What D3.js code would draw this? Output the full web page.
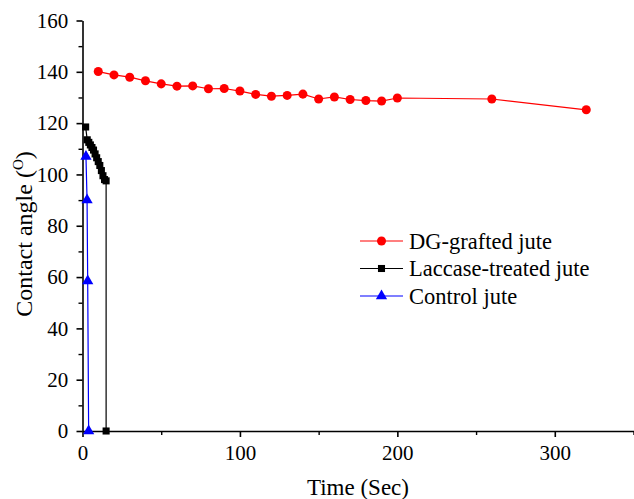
<!DOCTYPE html>
<html><head><meta charset="utf-8">
<script src="https://cdn.jsdelivr.net/npm/d3@7"></script>
<style>body{margin:0;background:#fff}svg{display:block}text{font-family:"Liberation Serif","Times New Roman",serif}</style>
</head><body><svg id="c" width="634" height="499"></svg>
<script>
const dgTime = [10,20,30,40,50,60,70,80,90,100,110,120,130,140,150,160,170,180,190,200,260,320];
const dgAngle = [140.1,138.8,137.9,136.5,135.3,134.4,134.5,133.4,133.5,132.5,131.2,130.5,130.8,131.3,129.4,130.2,129.2,128.8,128.6,129.8,129.4,125.2];
const lacTime = [2,3,4,5,6,7,8,9,10,11,12,13,14,15,15];
const lacAngle = [118.5,113.5,112.5,111.5,110.5,109.5,108,106.5,105,103.5,101.5,99.5,98,97.5,0];
const ctlTime = [2.2,2.9,3.3,3.9];
const ctlAngle = [107,90,58.5,0];
const xTicks = [0,100,200,300];
const yTicks = [0,20,40,60,80,100,120,140,160];
const legendLabels = ["DG-grafted jute","Laccase-treated jute","Control jute"];

const svg = d3.select("#c");
const x = d3.scaleLinear().domain([0,350]).range([82.5,633.5]);
const y = d3.scaleLinear().domain([0,160]).range([431,20.5]);
const tickFont = 21;

// axes
const xAxis = d3.axisBottom(x).tickValues(xTicks).tickFormat(d3.format("d")).tickSize(6).tickSizeOuter(0);
const gx = svg.append("g").attr("transform",`translate(0,${y(0)})`).call(xAxis);
gx.selectAll("text").attr("font-size",tickFont).attr("dy","0.95em").attr("fill","#000");
gx.selectAll("line,path").attr("stroke","#000").attr("stroke-width",1.6);
const gxm = svg.append("g").attr("transform",`translate(0,${y(0)})`).call(d3.axisBottom(x).tickValues([50,150,250,350]).tickFormat("").tickSize(4).tickSizeOuter(0));
gxm.select("path").remove();
gxm.selectAll("line").attr("stroke","#000").attr("stroke-width",1.4);

const yAxis = d3.axisLeft(y).tickValues(yTicks).tickFormat(d3.format("d")).tickSize(6).tickSizeOuter(0);
const gy = svg.append("g").attr("transform",`translate(${x(0)},0)`).call(yAxis);
gy.selectAll("text").attr("font-size",tickFont).attr("dx","-0.25em").attr("fill","#000");
gy.selectAll("line,path").attr("stroke","#000").attr("stroke-width",1.6);
const gym = svg.append("g").attr("transform",`translate(${x(0)},0)`).call(d3.axisLeft(y).tickValues(d3.range(10,160,20)).tickFormat("").tickSize(4).tickSizeOuter(0));
gym.select("path").remove();
gym.selectAll("line").attr("stroke","#000").attr("stroke-width",1.4);

// axis titles
svg.append("text").attr("x",358).attr("y",495).attr("text-anchor","middle").attr("font-size",23).text("Time (Sec)");
const yt = svg.append("text").attr("transform","translate(32,234) rotate(-90)").attr("text-anchor","middle").attr("font-size",24);
yt.append("tspan").text("Contact angle (");
yt.append("tspan").attr("font-size",15).attr("dy",-9).text("O");
yt.append("tspan").attr("dy",9).text(")");

// series
const series = [
  {t:dgTime,a:dgAngle,color:"#ff0000",sym:d3.symbolCircle,size:64},
  {t:lacTime,a:lacAngle,color:"#000000",sym:d3.symbolSquare,size:50},
  {t:ctlTime,a:ctlAngle,color:"#0000ff",sym:d3.symbolTriangle,size:55}
];
const line = d3.line().x(d=>x(d[0])).y(d=>y(d[1]));
series.forEach(s=>{
  const pts = s.t.map((t,i)=>[t,s.a[i]]);
  svg.append("path").datum(pts).attr("d",line).attr("fill","none").attr("stroke",s.color).attr("stroke-width",1.2);
  svg.append("g").selectAll("path").data(pts).join("path")
    .attr("transform",d=>`translate(${x(d[0])},${y(d[1])})`)
    .attr("d",d3.symbol(s.sym,s.size)).attr("fill",s.color);
});

// legend
const legY = [241,268.5,296];
series.forEach((s,i)=>{
  const g = svg.append("g").attr("transform",`translate(360,${legY[i]})`);
  g.append("line").attr("x1",0).attr("x2",43).attr("stroke",s.color).attr("stroke-width",1.2);
  g.append("path").attr("transform","translate(21.5,0)").attr("d",d3.symbol(s.sym,s.size)).attr("fill",s.color);
  g.append("text").attr("x",49).attr("dy","0.35em").attr("font-size",22.5).text(legendLabels[i]);
});
</script></body></html>
